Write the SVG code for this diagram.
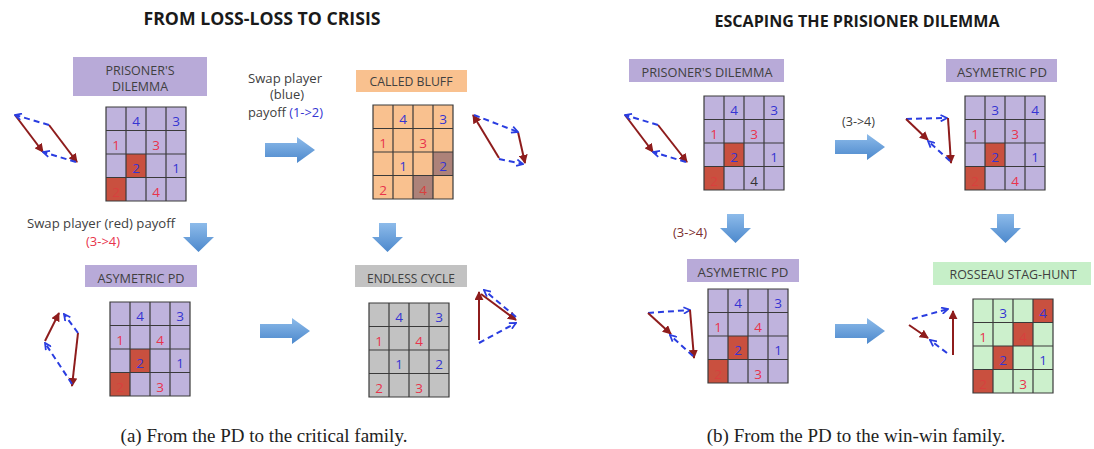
<svg xmlns="http://www.w3.org/2000/svg" xmlns:xlink="http://www.w3.org/1999/xlink" width="1094" height="449" viewBox="0 0 1094 449">
<style>
text{font-family:"Open Sans","Liberation Sans",sans-serif;}
.title{font-weight:bold;fill:#1a1a1a;text-anchor:middle;}
.lbl{font-size:12px;fill:#404040;text-anchor:middle;}
.note{font-size:12px;fill:#404040;}
.cap{font-family:"Liberation Serif","DejaVu Serif",serif;font-size:19px;fill:#222;}
.n{font-size:13.5px;text-anchor:middle;}
.b{fill:#3535d2;}
.r{fill:#e8344c;}
.rr{fill:#d8403e;}
.k{fill:#333;}
.cl{fill:#bfb3dd;}
.bl{fill:#b8aad8;}
.cr{fill:#c9503f;}
.co{fill:#f9c18f;}
.cd{fill:#ad8279;}
.cg{fill:#c2c2c2;}
.cgr{fill:#ccf0cc;}
.bgr{fill:#c6efc8;}
.gl{fill:none;stroke:#3a3a3a;stroke-width:1.2;}
.ra{fill:none;stroke:#8e1c1c;stroke-width:2;marker-end:url(#rh);}
.ba{fill:none;stroke:#2a3de0;stroke-width:2;stroke-dasharray:6 4;marker-end:url(#bh);}
.blk{fill:url(#bg);}
</style>
<defs>
<linearGradient id="bg" x1="0" y1="0" x2="0" y2="1">
<stop offset="0" stop-color="#8dbbea"/>
<stop offset="1" stop-color="#4c88cc"/>
</linearGradient>
<marker id="rh" viewBox="0 0 10 10" refX="9" refY="5" markerWidth="4.5" markerHeight="4.5" orient="auto">
<path d="M0,0 L10,5 L0,10 Z" fill="#8e1c1c"/>
</marker>
<marker id="bh" viewBox="0 0 10 10" refX="9" refY="5" markerWidth="4" markerHeight="4" orient="auto">
<path d="M1,1 L9,5 L1,9" fill="none" stroke="#2a3de0" stroke-width="2.2"/>
</marker>
<path id="grid" class="gl" d="M0,0H80V94H0Z M20,0V94 M40,0V94 M60,0V94 M0,23.5H80 M0,47H80 M0,70.5H80"/>
<path id="rarrow" d="M0,6 H32 V0 L50,13 L32,26 V20 H0 Z"/>
<path id="darrow" d="M7,0 H24 V14 H31 L15.5,29 L0,14 H7 Z"/>
</defs>
<rect width="1094" height="449" fill="#ffffff"/>

<text class="title" x="262" y="25" style="font-size:17px" textLength="237" lengthAdjust="spacingAndGlyphs">FROM LOSS-LOSS TO CRISIS</text>
<text class="title" x="857" y="27" style="font-size:15.5px" textLength="285" lengthAdjust="spacingAndGlyphs">ESCAPING THE PRISIONER DILEMMA</text>

<g id="connectors">
<use xlink:href="#rarrow" class="blk" x="265" y="137"/>
<use xlink:href="#darrow" class="blk" x="183" y="223"/>
<use xlink:href="#darrow" class="blk" x="372" y="223"/>
<use xlink:href="#rarrow" class="blk" x="260" y="318"/>
<use xlink:href="#rarrow" class="blk" x="835" y="134"/>
<use xlink:href="#darrow" class="blk" x="720" y="214"/>
<use xlink:href="#rarrow" class="blk" x="835" y="318"/>
<use xlink:href="#darrow" class="blk" x="990" y="214"/>
<text class="note" x="248" y="83" textLength="74" lengthAdjust="spacingAndGlyphs">Swap player</text>
<text class="note" x="270" y="99" textLength="34" lengthAdjust="spacingAndGlyphs">(blue)</text>
<text class="note" x="248" y="117" textLength="75" lengthAdjust="spacingAndGlyphs">payoff <tspan class="b">(1-&gt;2)</tspan></text>
<text class="note" x="27" y="228" textLength="148" lengthAdjust="spacingAndGlyphs">Swap player (red) payoff</text>
<text class="note r" x="86" y="246" textLength="34" lengthAdjust="spacingAndGlyphs">(3-&gt;4)</text>
<text class="note" x="842" y="126" textLength="33" lengthAdjust="spacingAndGlyphs">(3-&gt;4)</text>
<text class="note" x="673" y="237" textLength="34" lengthAdjust="spacingAndGlyphs" style="fill:#7a2e2e">(3-&gt;4)</text>
</g>

<g id="pd-a">
<rect class="bl" x="73" y="57" width="134" height="39"/>
<text class="lbl" x="140" y="75" textLength="69" lengthAdjust="spacingAndGlyphs">PRISONER'S</text>
<text class="lbl" x="140" y="91" textLength="56" lengthAdjust="spacingAndGlyphs">DILEMMA</text>
<g transform="translate(106,107)">
<rect class="cl" width="80" height="94"/>
<rect class="cr" x="20" y="47" width="20" height="23.5"/>
<rect class="cr" x="0" y="70.5" width="20" height="23.5"/>
<use xlink:href="#grid"/>
<text class="n b" x="30" y="19">4</text><text class="n b" x="70" y="19">3</text>
<text class="n r" x="10" y="42.5">1</text><text class="n r" x="50" y="42.5">3</text>
<text class="n b" x="30" y="66">2</text><text class="n b" x="70" y="66">1</text>
<text class="n rr" x="10" y="89.5">2</text><text class="n r" x="50" y="89.5">4</text>
</g>
<line class="ra" x1="15" y1="115" x2="43" y2="152"/>
<line class="ra" x1="49" y1="125" x2="77" y2="162"/>
<line class="ba" x1="49" y1="125" x2="15" y2="115"/>
<line class="ba" x1="76" y1="162" x2="43" y2="152"/>
</g>

<g id="called-bluff">
<rect class="co" x="356" y="70" width="111" height="22"/>
<text class="lbl" x="411" y="86" textLength="83" lengthAdjust="spacingAndGlyphs">CALLED BLUFF</text>
<g transform="translate(373,105)">
<rect class="co" width="80" height="94"/>
<rect class="cd" x="60" y="47" width="20" height="23.5"/>
<rect class="cd" x="40" y="70.5" width="20" height="23.5"/>
<use xlink:href="#grid"/>
<text class="n b" x="30" y="19">4</text><text class="n b" x="70" y="19">3</text>
<text class="n r" x="10" y="42.5">1</text><text class="n r" x="50" y="42.5">3</text>
<text class="n b" x="30" y="66">1</text><text class="n b" x="70" y="66">2</text>
<text class="n r" x="10" y="89.5">2</text><text class="n rr" x="50" y="89.5">4</text>
</g>
<line class="ra" x1="499" y1="158" x2="473" y2="115"/>
<line class="ra" x1="518" y1="132" x2="525" y2="163"/>
<line class="ba" x1="474" y1="115" x2="518" y2="132"/>
<line class="ba" x1="499" y1="159" x2="523" y2="164"/>
</g>

<g id="asym-pd-a">
<rect class="bl" x="85" y="265" width="112" height="22"/>
<text class="lbl" x="141" y="283" textLength="87" lengthAdjust="spacingAndGlyphs">ASYMETRIC PD</text>
<g transform="translate(110,302)">
<rect class="cl" width="80" height="94"/>
<rect class="cr" x="20" y="47" width="20" height="23.5"/>
<rect class="cr" x="0" y="70.5" width="20" height="23.5"/>
<use xlink:href="#grid"/>
<text class="n b" x="30" y="19">4</text><text class="n b" x="70" y="19">3</text>
<text class="n r" x="10" y="42.5">1</text><text class="n r" x="50" y="42.5">4</text>
<text class="n b" x="30" y="66">2</text><text class="n b" x="70" y="66">1</text>
<text class="n rr" x="10" y="89.5">2</text><text class="n r" x="50" y="89.5">3</text>
</g>
<line class="ra" x1="45" y1="341" x2="59" y2="313"/>
<line class="ra" x1="78" y1="333" x2="72" y2="386"/>
<line class="ba" x1="78" y1="333" x2="64" y2="314"/>
<line class="ba" x1="72" y1="384" x2="45" y2="343"/>
</g>

<g id="endless-cycle">
<rect class="cg" x="355" y="265" width="112" height="22"/>
<text class="lbl" x="411" y="283" textLength="88" lengthAdjust="spacingAndGlyphs">ENDLESS CYCLE</text>
<g transform="translate(369,303)">
<rect class="cg" width="80" height="94"/>
<use xlink:href="#grid"/>
<text class="n b" x="30" y="19">4</text><text class="n b" x="70" y="19">3</text>
<text class="n r" x="10" y="42.5">1</text><text class="n r" x="50" y="42.5">4</text>
<text class="n b" x="30" y="66">1</text><text class="n b" x="70" y="66">2</text>
<text class="n r" x="10" y="89.5">2</text><text class="n r" x="50" y="89.5">3</text>
</g>
<line class="ra" x1="479" y1="340" x2="479" y2="292"/>
<line class="ra" x1="481" y1="294" x2="516" y2="320"/>
<line class="ba" x1="516" y1="317" x2="484" y2="290"/>
<line class="ba" x1="479" y1="343" x2="516" y2="323"/>
</g>

<g id="pd-b">
<rect class="bl" x="629" y="59" width="155" height="23"/>
<text class="lbl" x="707" y="77" textLength="131" lengthAdjust="spacingAndGlyphs">PRISONER'S DILEMMA</text>
<g transform="translate(704,96)">
<rect class="cl" width="80" height="94"/>
<rect class="cr" x="20" y="47" width="20" height="23.5"/>
<rect class="cr" x="0" y="70.5" width="20" height="23.5"/>
<use xlink:href="#grid"/>
<text class="n b" x="30" y="19">4</text><text class="n b" x="70" y="19">3</text>
<text class="n r" x="10" y="42.5">1</text><text class="n r" x="50" y="42.5">3</text>
<text class="n b" x="30" y="66">2</text><text class="n b" x="70" y="66">1</text>
<text class="n rr" x="10" y="89.5">2</text><text class="n k" x="50" y="89.5">4</text>
</g>
<line class="ra" x1="625" y1="115" x2="653" y2="152"/>
<line class="ra" x1="658" y1="125" x2="687" y2="162"/>
<line class="ba" x1="658" y1="125" x2="625" y2="115"/>
<line class="ba" x1="686" y1="162" x2="653" y2="152"/>
</g>

<g id="asym-pd-b-top">
<rect class="bl" x="946" y="59" width="111" height="23"/>
<text class="lbl" x="1002" y="77" textLength="90" lengthAdjust="spacingAndGlyphs">ASYMETRIC  PD</text>
<g transform="translate(965,96)">
<rect class="cl" width="80" height="94"/>
<rect class="cr" x="20" y="47" width="20" height="23.5"/>
<rect class="cr" x="0" y="70.5" width="20" height="23.5"/>
<use xlink:href="#grid"/>
<text class="n b" x="30" y="19">3</text><text class="n b" x="70" y="19">4</text>
<text class="n r" x="10" y="42.5">1</text><text class="n r" x="50" y="42.5">3</text>
<text class="n b" x="30" y="66">2</text><text class="n b" x="70" y="66">1</text>
<text class="n rr" x="10" y="89.5">2</text><text class="n r" x="50" y="89.5">4</text>
</g>
<line class="ba" x1="906" y1="119" x2="947" y2="118"/>
<line class="ra" x1="906" y1="119" x2="928" y2="140"/>
<line class="ra" x1="948" y1="118" x2="951" y2="163"/>
<line class="ba" x1="950" y1="161" x2="928" y2="141"/>
</g>

<g id="asym-pd-b-bottom">
<rect class="bl" x="687" y="259" width="112" height="23"/>
<text class="lbl" x="743" y="277" textLength="91" lengthAdjust="spacingAndGlyphs">ASYMETRIC  PD</text>
<g transform="translate(708,289)">
<rect class="cl" width="80" height="94"/>
<rect class="cr" x="20" y="47" width="20" height="23.5"/>
<rect class="cr" x="0" y="70.5" width="20" height="23.5"/>
<use xlink:href="#grid"/>
<text class="n b" x="30" y="19">4</text><text class="n b" x="70" y="19">3</text>
<text class="n r" x="10" y="42.5">1</text><text class="n r" x="50" y="42.5">4</text>
<text class="n b" x="30" y="66">2</text><text class="n b" x="70" y="66">1</text>
<text class="n rr" x="10" y="89.5">2</text><text class="n r" x="50" y="89.5">3</text>
</g>
<line class="ba" x1="648" y1="313" x2="690" y2="310"/>
<line class="ra" x1="648" y1="313" x2="671" y2="334"/>
<line class="ra" x1="690" y1="310" x2="694" y2="358"/>
<line class="ba" x1="693" y1="356" x2="670" y2="335"/>
</g>

<g id="stag-hunt">
<rect class="bgr" x="933" y="262" width="158" height="23"/>
<text class="lbl" x="1013" y="279" textLength="127" lengthAdjust="spacingAndGlyphs">ROSSEAU STAG-HUNT</text>
<g transform="translate(973,299)">
<rect class="cgr" width="80" height="94"/>
<rect class="cr" x="60" y="0" width="20" height="23.5"/>
<rect class="cr" x="40" y="23.5" width="20" height="23.5"/>
<rect class="cr" x="20" y="47" width="20" height="23.5"/>
<rect class="cr" x="0" y="70.5" width="20" height="23.5"/>
<use xlink:href="#grid"/>
<text class="n b" x="30" y="19">3</text><text class="n b" x="70" y="19">4</text>
<text class="n r" x="10" y="42.5">1</text><text class="n rr" x="50" y="42.5">4</text>
<text class="n b" x="30" y="66">2</text><text class="n b" x="70" y="66">1</text>
<text class="n rr" x="10" y="89.5">2</text><text class="n r" x="50" y="89.5">3</text>
</g>
<line class="ba" x1="912" y1="319" x2="948" y2="309"/>
<line class="ra" x1="909" y1="325" x2="928" y2="338"/>
<line class="ra" x1="953" y1="355" x2="953" y2="311"/>
<line class="ba" x1="947" y1="353" x2="930" y2="340"/>
</g>

<text class="cap" x="264" y="442" text-anchor="middle">(a) From the PD to the critical family.</text>
<text class="cap" x="856" y="442" text-anchor="middle">(b) From the PD to the win-win family.</text>
</svg>
